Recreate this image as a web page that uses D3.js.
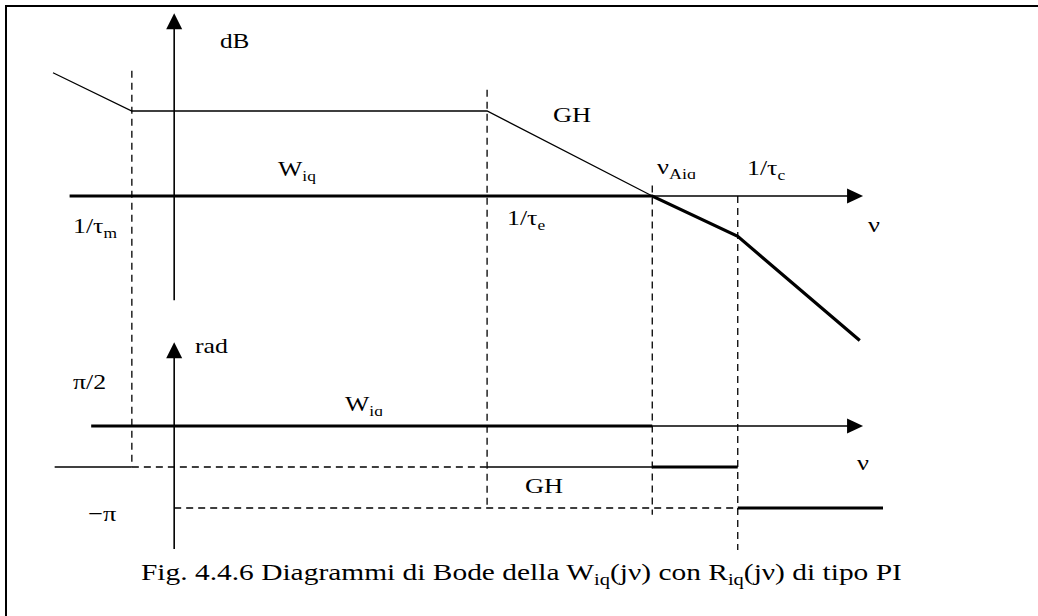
<!DOCTYPE html>
<html>
<head>
<meta charset="utf-8">
<script src="https://cdn.jsdelivr.net/npm/d3@7"></script>
<style>
  html, body { margin: 0; padding: 0; background: #fff; }
  svg { display: block; }
  text { font-family: "Liberation Serif", "Times New Roman", serif; fill: #000; }
</style>
</head>
<body>
<svg id="chart" width="1038" height="616"></svg>
<script>
// Asymptotic Bode diagrams, frequency axis in decades (log10 ν, arbitrary origin)

// Magnitude: loop gain GH (thin) and closed-loop W_iq (thick), in dB
const ghMagNu = [0, 0.95, 5.23, 7.22];
const ghMagDb = [58, 40, 40, 0];
const wMagNu  = [0.2, 7.22, 8.25, 9.72];
const wMagDb  = [0, 0, -19, -68];

// Phase: W_iq (thick) and GH (thin), in degrees
const wPhaseSegs  = [ { nu: [0.46, 7.22], deg: 0 }, { nu: [7.22, 8.25], deg: -90 }, { nu: [8.25, 10], deg: -180 } ];
const ghPhaseSegs = [ { nu: [0.02, 0.95], deg: -90 }, { nu: [5.23, 7.22], deg: -90 } ];
const phaseRefSegs = [ { nu: [0.95, 5.23], deg: -90 }, { nu: [1.46, 8.25], deg: -180 } ];

// Corner frequencies: vertical dashed guides through both diagrams
const cornerNu     = [0.95, 5.23, 7.22, 8.25];
const cornerTopDb  = [59, 50, 5, 0];
const cornerBotDeg = [-90, -173, -195, -272];

// Axes extents
const vAxisNu = 1.46;
const magAxisDb = [-49, 86];
const phaseAxisDeg = [-270, 184];
const freqAxisEnd = 9.76;

const svg = d3.select("#chart");
const x    = d3.scaleLinear().domain([0, 10]).range([53, 883]);
const yMag = d3.scaleLinear().domain([0, 40]).range([196, 111]);
const yPh  = d3.scaleLinear().domain([0, -180]).range([426, 508]);

const THIN = 1.3, THICK = 3.2, DASH = "7,5";
const SX = 1.2; // horizontal stretch of the lettering

// frame
svg.append("rect").attr("x", 6).attr("y", 6).attr("width", 1040).attr("height", 620)
  .attr("fill", "#fff").attr("stroke", "#000").attr("stroke-width", 2);

const line = d3.line();

function seg(x1, y1, x2, y2, w, dash) {
  const p = svg.append("line").attr("x1", x1).attr("y1", y1).attr("x2", x2).attr("y2", y2)
    .attr("stroke", "#000").attr("stroke-width", w);
  if (dash) p.attr("stroke-dasharray", dash);
  return p;
}

function arrowUp(xt, yt) {
  svg.append("path").attr("d", `M${xt},${yt} L${xt - 8},${yt + 16} L${xt + 8},${yt + 16} Z`).attr("fill", "#000");
}
function arrowRight(xt, yt) {
  svg.append("path").attr("d", `M${xt},${yt} L${xt - 16},${yt - 7.5} L${xt - 16},${yt + 7.5} Z`).attr("fill", "#000");
}

// dashed corner-frequency guides
cornerNu.forEach((n, i) => {
  seg(x(n), yMag(cornerTopDb[i]), x(n), yPh(cornerBotDeg[i]), 1.3, DASH);
});
// dashed phase reference levels
phaseRefSegs.forEach(s => seg(x(s.nu[0]), yPh(s.deg), x(s.nu[1]), yPh(s.deg), 1.3, DASH));

// magnitude axes
seg(x(vAxisNu), yMag(magAxisDb[0]), x(vAxisNu), yMag(magAxisDb[1]) + 10, 1.6);
arrowUp(x(vAxisNu), yMag(magAxisDb[1]));
seg(x(wMagNu[1]), yMag(0), x(freqAxisEnd) - 10, yMag(0), 1.4);
arrowRight(x(freqAxisEnd), yMag(0));

// phase axes
seg(x(vAxisNu), yPh(phaseAxisDeg[0]), x(vAxisNu), yPh(phaseAxisDeg[1]) + 10, 1.6);
arrowUp(x(vAxisNu), yPh(phaseAxisDeg[1]));
seg(x(wPhaseSegs[0].nu[1]), yPh(0), x(freqAxisEnd) - 10, yPh(0), 1.4);
arrowRight(x(freqAxisEnd), yPh(0));

// GH magnitude
svg.append("path").attr("d", line(ghMagNu.map((n, i) => [x(n), yMag(ghMagDb[i])])))
  .attr("fill", "none").attr("stroke", "#000").attr("stroke-width", THIN);
// W_iq magnitude
svg.append("path").attr("d", line(wMagNu.map((n, i) => [x(n), yMag(wMagDb[i])])))
  .attr("fill", "none").attr("stroke", "#000").attr("stroke-width", THICK).attr("stroke-linejoin", "miter");

// phases
ghPhaseSegs.forEach(s => seg(x(s.nu[0]), yPh(s.deg), x(s.nu[1]), yPh(s.deg), THIN));
wPhaseSegs.forEach(s => seg(x(s.nu[0]), yPh(s.deg), x(s.nu[1]), yPh(s.deg), THICK));

// labels (stretched horizontally, optional subscript, optional bottom clip)
const defs = svg.append("defs");
let clipId = 0;
function label(px, py, main, sub, size, subSize, clipBottom, sx) {
  const k = sx || SX;
  const t = svg.append("text").attr("x", 0).attr("y", 0).attr("font-size", size)
    .attr("transform", `translate(${px},${py}) scale(${k},1)`);
  t.append("tspan").text(main);
  if (sub) t.append("tspan").attr("font-size", subSize).attr("dy", size * 0.24).text(sub);
  if (clipBottom !== undefined) {
    const id = "clip" + (clipId++);
    defs.append("clipPath").attr("id", id).append("rect")
      .attr("x", -5).attr("y", -40).attr("width", 120).attr("height", clipBottom - py + 40);
    t.attr("clip-path", `url(#${id})`);
  }
  return t;
}

label(220, 48, "dB", null, 21);
label(553, 122, "GH", null, 22);
label(278, 176, "W", "iq", 21.5, 14.5);
label(73, 233, "1/τ", "m", 21.5, 14.5);
label(507, 225, "1/τ", "e", 21.5, 14.5);
label(657, 174, "ν", "Aiq", 22, 15, 179);
label(747, 175, "1/τ", "c", 21.5, 14.5);
label(868, 232, "ν", null, 22);

label(195, 353, "rad", null, 21.5);
label(73, 389, "π/2", null, 21.5);
label(345, 411, "W", "iq", 21.5, 14.5, 416);
label(525, 493, "GH", null, 22);
label(88, 521, "−π", null, 22);
label(857, 470, "ν", null, 22);

// caption
const cap = svg.append("text").attr("x", 0).attr("y", 0).attr("font-size", 23)
  .attr("transform", "translate(141,580) scale(1.28,1)");
cap.append("tspan").text("Fig. 4.4.6 Diagrammi di Bode della W");
cap.append("tspan").attr("font-size", 16).attr("dy", 5).text("iq");
cap.append("tspan").attr("dy", -5).text("(jν) con R");
cap.append("tspan").attr("font-size", 16).attr("dy", 5).text("iq");
cap.append("tspan").attr("dy", -5).text("(jν) di tipo PI");
</script>
</body>
</html>
